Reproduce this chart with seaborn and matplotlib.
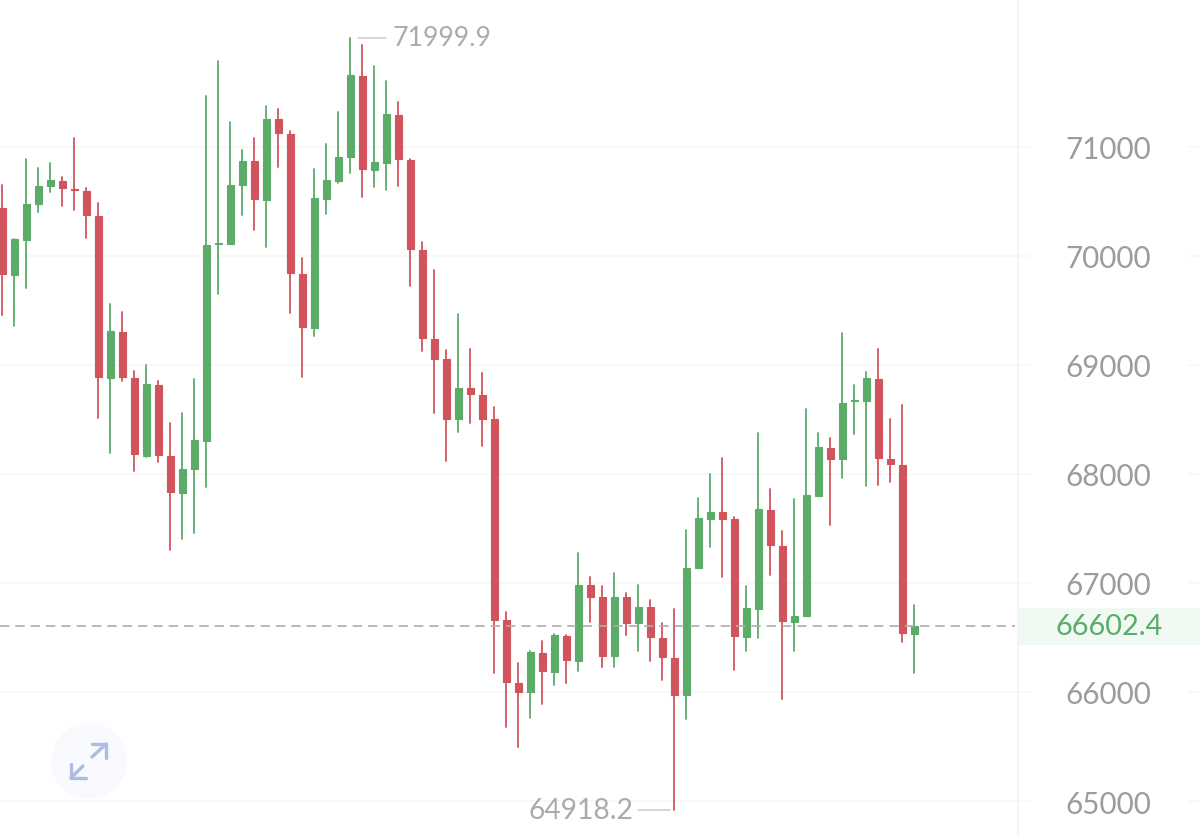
import matplotlib
matplotlib.use("Agg")
import matplotlib.pyplot as plt
import pandas as pd
import seaborn as sns

# =========================
# Data
# =========================

highs = [70651, 70156, 70890, 70807, 70853, 70725, 71083, 70624, 70486, 69560, 69486,
         68945, 69000, 68853, 68468, 68560, 68871, 71468, 71789, 71229, 70972, 71083,
         71376, 71349, 71147, 69982, 70798, 71028, 71321, 71999.9, 71936, 71743, 71605,
         71413, 70890, 70128, 69872, 69138, 69468, 69147, 68927, 68615, 66734, 66266,
         66376, 66468, 66532, 66523, 67275, 67055, 66972, 67092, 66908, 66982, 66844,
         66633, 66761, 67486, 67780, 68000, 68147, 67605, 66972, 68376, 67862, 67477,
         67771, 68596, 68376, 68330, 69294, 68817, 68936, 69147, 68505, 68633, 66798]

lows = [69459, 69358, 69706, 70404, 70587, 70459, 70422, 70165, 68514, 68193, 68853,
        68028, 68156, 68110, 67303, 67404, 67459, 67881, 69651, 70110, 70376, 70239,
        70083, 70817, 69477, 68890, 69266, 70385, 70670, 70761, 70541, 70633, 70606,
        70642, 69725, 69128, 68560, 68119, 68385, 68468, 68257, 66174, 65679, 65495,
        65761, 65890, 66064, 66083, 66193, 66642, 66229, 66229, 66523, 66376, 66284,
        66110, 64918.2, 65752, 67138, 67330, 67055, 66202, 66376, 66495, 67073, 65936,
        66376, 66697, 67798, 67532, 67963, 68367, 67890, 67899, 67927, 66459, 66174]

opens = [70440, 69826, 70147, 70477, 70642, 70688, 70615, 70596, 70367, 68881, 69303,
         68881, 68165, 68817, 68165, 67826, 68046, 68303, 70110, 70110, 70651, 70872,
         70514, 71257, 71119, 69835, 69340, 70523, 70688, 70908, 71651, 70789, 70853,
         71294, 70881, 70055, 69239, 69055, 68505, 68789, 68725, 68505, 66661, 66083,
         66000, 66358, 66183, 66514, 66284, 66982, 66872, 66330, 66872, 66633, 66780,
         66495, 66312, 65972, 67138, 67587, 67651, 67587, 66505, 66761, 67670, 67339,
         66642, 66697, 67798, 68239, 68138, 68670, 68670, 68872, 68138, 68083, 66532]

closes = [69835, 70156, 70477, 70642, 70697, 70624, 70606, 70376, 68890, 69312, 68890,
          68183, 68826, 68174, 67835, 68046, 68312, 70101, 70119, 70651, 70872, 70523,
          71257, 71128, 69844, 69349, 70532, 70697, 70908, 71661, 70798, 70862, 71303,
          70890, 70064, 69248, 69055, 68505, 68789, 68734, 68505, 66661, 66092, 66000,
          66367, 66193, 66523, 66294, 66982, 66872, 66330, 66872, 66633, 66780, 66505,
          66321, 65972, 67138, 67596, 67651, 67587, 66514, 66771, 67679, 67349, 66651,
          66697, 67807, 68248, 68138, 68651, 68679, 68881, 68147, 68092, 66541, 66602.4]

price_levels = [71000, 70000, 69000, 68000, 67000, 66000, 65000]
last_price = 66602.4
high_price = 71999.9
low_price = 64918.2

RED = "#d1545c"
GREEN = "#5cab69"
GRID = "#f7f7f8"
TEXT = "#9c9c9c"

# =========================
# Tables for seaborn
# =========================

df = pd.DataFrame({"i": range(len(highs)), "high": highs, "low": lows,
                   "open": opens, "close": closes})
df["up"] = df["close"] >= df["open"]
df["bottom"] = df[["open", "close"]].min(axis=1)
df["height"] = (df["open"] - df["close"]).abs()

wicks = df.melt(id_vars=["i", "up"], value_vars=["high", "low"], value_name="price")

# =========================
# Figure
# =========================

sns.set_theme(style="white")
plt.rcParams["font.family"] = ["Lato", "DejaVu Sans"]

fig, ax = plt.subplots(figsize=(12, 8.37), dpi=100)
fig.subplots_adjust(left=0, right=1, bottom=0, top=1)

PANEL_X = 1018 / 1200

# grid, split around the labels on the right
trans = ax.get_yaxis_transform()
ax.hlines(price_levels, 0, 1030 / 1200, color=GRID, lw=1.2, transform=trans, zorder=0)
ax.hlines(price_levels, 1188 / 1200, 1, color=GRID, lw=1.2, transform=trans, zorder=0)
ax.plot([PANEL_X, PANEL_X], [0, 1], color="#f3f3f4", lw=1.2, transform=ax.transAxes, zorder=0)

# wicks and bodies
for is_up, color in [(True, GREEN), (False, RED)]:
    sns.lineplot(data=wicks[wicks["up"] == is_up], x="i", y="price", units="i",
                 estimator=None, color=color, lw=1.3, ax=ax, zorder=2)
    part = df[df["up"] == is_up]
    sns.barplot(data=part, x="i", y="height", bottom=part["bottom"], native_scale=True,
                width=0.6, color=color, saturation=1, errorbar=None, linewidth=0.8,
                edgecolor=color, ax=ax, zorder=3)

# last price
ax.axhspan(last_price - 175, last_price + 170, xmin=1019 / 1200, xmax=1,
           color="#f0f9f2", lw=0, zorder=0)
ax.plot([0, 1015 / 1200], [last_price, last_price], color="#adadad", lw=1.2,
        dashes=(5.6, 3.6), transform=trans, zorder=4)
ax.text(1109 / 1200, last_price, f"{last_price:.1f}", transform=trans, ha="center",
        va="center", fontsize=20.8, color="#5cab69")

# high / low markers
hi_i = df["high"].idxmax()
lo_i = df["low"].idxmin()
ax.plot([hi_i + 0.6, hi_i + 3.0], [high_price, high_price], color="#cfcfcf", lw=1.2)
ax.text(hi_i + 3.55, high_price, f"{high_price:.1f}", ha="left", va="center",
        fontsize=19.3, color="#ababab")
ax.plot([lo_i - 3.0, lo_i - 0.4], [low_price, low_price], color="#cfcfcf", lw=1.2)
ax.text(lo_i - 3.4, low_price, f"{low_price:.1f}", ha="right", va="center",
        fontsize=20.3, color="#ababab")

# axes
ax.set_xlim(-2.3 / 12, 1197.7 / 12)
ax.set_ylim(64679, 72357)
ax.set_xlabel("")
ax.set_ylabel("")
ax.set_xticks([])
ax.yaxis.tick_right()
ax.set_yticks(price_levels)
ax.set_yticklabels([str(v) for v in price_levels], ha="center")
ax.tick_params(axis="y", length=0, pad=-66, labelsize=21.3, labelcolor=TEXT)
sns.despine(ax=ax, left=True, right=True, top=True, bottom=True)

# =========================
# Expand button
# =========================

icon = fig.add_axes([0, 0, 1, 1], facecolor="none")
icon.set_xlim(0, 1200)
icon.set_ylim(837, 0)
icon.axis("off")
icon.add_patch(plt.Circle((89, 762), 38, color="#f8fafe", lw=0, zorder=0))
for xs, ys in [([92, 106], [758, 745]), ([92, 106, 106], [745, 745, 759]),
               ([83, 71], [767, 779]), ([71, 71, 86], [765, 779, 779])]:
    icon.plot(xs, ys, color="#aebbe2", lw=2.4, solid_capstyle="round", solid_joinstyle="round")

plt.savefig("out.png", dpi=100)
